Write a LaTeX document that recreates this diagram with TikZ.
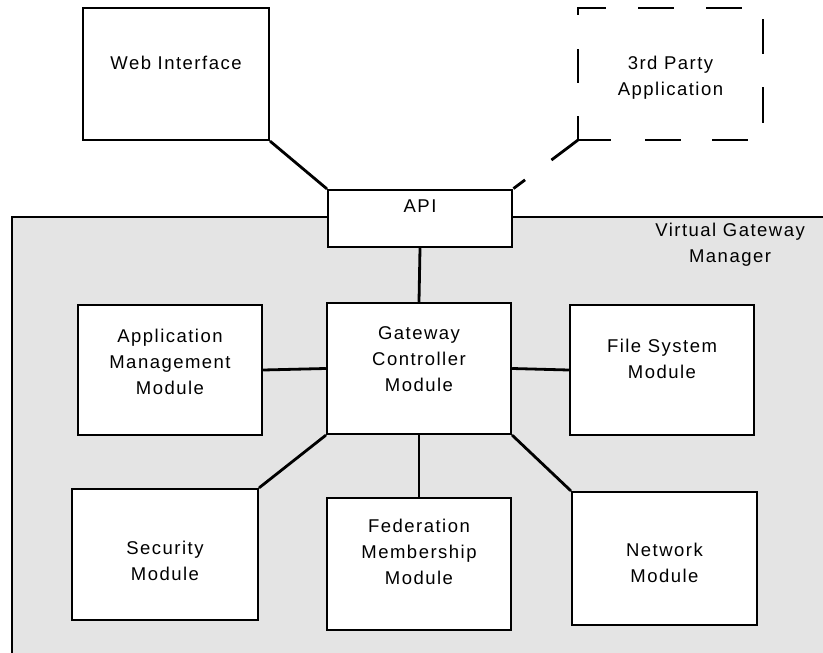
\documentclass[tikz,border=0pt]{standalone}
\usepackage{fontspec}
\setmainfont[LetterSpace=8]{Liberation Sans}
\definecolor{mgrbg}{HTML}{E4E4E4}
\begin{document}
\begin{tikzpicture}[x=1pt,y=-1pt,
  box/.style={draw=black, line width=2.8pt, fill=white, inner sep=0pt, minimum width=185pt, minimum height=131pt},
  lbl/.style={inner sep=0pt, align=center, font=\fontsize{18.5}{26}\selectfont},
  link/.style={line width=2.8pt, line cap=round},
  dashedge/.style={line width=2.8pt, line cap=rect}]
\useasboundingbox (0,0) rectangle (823,653);

% manager area
\fill[mgrbg] (12,217) rectangle (830,660);
\draw[line width=2.8pt] (12,660) -- (12,217) -- (830,217);
\node[lbl, anchor=east] (vgm) at (805,245) {Virtual Gateway\\Manager};

% outside clients
\node[box, minimum width=186pt, minimum height=132pt] (web) at (176,74) {};
\node[lbl] (webt) at (176,63) {Web Interface};
\node[inner sep=0pt, minimum width=185pt, minimum height=132pt] (tp) at (670.5,74) {};
% dashed outline of the third-party box
\draw[dashedge]
  (578,8) -- (605,8)  (639,8) -- (673,8)  (707,8) -- (741,8)
  (763,20) -- (763,53)  (763,88) -- (763,122)
  (578,140) -- (610,140)  (646,140) -- (680,140)  (713,140) -- (747,140)
  (578,140) -- (578,117)  (578,82) -- (578,50)  (578,14) -- (578,8);
\node[lbl] (tpt) at (670.5,78) {3rd Party\\Application};

% api
\node[box, minimum width=184pt, minimum height=57pt] (api) at (420,218.5) {};
\node[lbl] (apit) at (420,206) {API};

% modules
\node[box, minimum width=184pt, minimum height=130pt] (amm) at (170,370) {};
\node[lbl] (ammt) at (170,362) {Application\\Management\\Module};
\node[box, minimum width=184pt] (gcm) at (419,368.5) {};
\node[lbl] (gcmt) at (419,359) {Gateway\\Controller\\Module};
\node[box, minimum width=184pt, minimum height=130pt] (fs) at (662,370) {};
\node[lbl] (fst) at (662,359) {File System\\Module};
\node[box, minimum width=186pt] (sec) at (165,554.5) {};
\node[lbl] (sect) at (165,561) {Security\\Module};
\node[box, minimum width=184pt, minimum height=132pt] (fed) at (419,564) {};
\node[lbl] (fedt) at (419,552) {Federation\\Membership\\Module};
\node[box, minimum height=133pt] (net) at (664.5,558.5) {};
\node[lbl] (nett) at (664.5,563) {Network\\Module};

% connectors
\draw[link] (web.south east) -- (api.north west);
\draw[line width=2.8pt, dash pattern=on 33pt off 33pt] (tp.south west) -- (api.north east);
\draw[link] (api.south) -- (gcm.north);
\draw[link] (amm.east) -- (gcm.west);
\draw[link] (gcm.east) -- (fs.west);
\draw[link] (gcm.south west) -- (sec.north east);
\draw[link] (gcm.south) -- (fed.north);
\draw[link] (gcm.south east) -- (net.north west);
\end{tikzpicture}
\end{document}
